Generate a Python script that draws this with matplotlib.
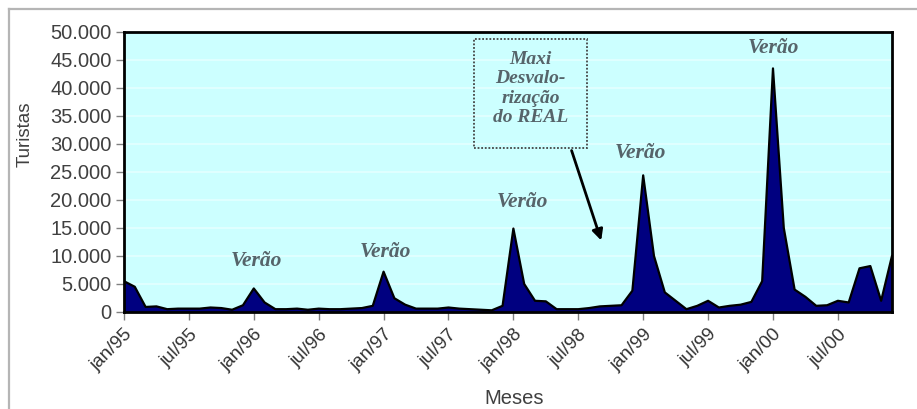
import matplotlib
matplotlib.use("Agg")
import matplotlib.pyplot as plt
from matplotlib.patches import Rectangle
from matplotlib.lines import Line2D

# Turistas por mês, jan/95 a dez/00
turistas = [
    5500, 4500, 900, 1000, 500, 600, 600, 600, 800, 700, 400, 1200,
    4200, 1700, 500, 500, 600, 400, 600, 500, 500, 600, 700, 1100,
    7200, 2450, 1300, 600, 600, 600, 800, 600, 500, 400, 300, 1100,
    14900, 5000, 2000, 1900, 500, 500, 500, 700, 1000, 1100, 1200, 3800,
    24400, 10000, 3500, 2000, 500, 1100, 2000, 800, 1100, 1300, 1800, 5500,
    43500, 15000, 4000, 2700, 1100, 1200, 2000, 1700, 7800, 8200, 2000, 10000,
]
rotulos_meses = ["jan/95", "jul/95", "jan/96", "jul/96", "jan/97", "jul/97",
                 "jan/98", "jul/98", "jan/99", "jul/99", "jan/00", "jul/00"]
valores_y = [0, 5000, 10000, 15000, 20000, 25000, 30000, 35000, 40000, 45000, 50000]

# posições (mês, valor) das anotações "Verão"
verao_x = [12.2, 24.2, 36.8, 47.7, 60.0]
verao_y = [9100, 10800, 19700, 28450, 47100]

meses = list(range(len(turistas)))

fig = plt.figure(figsize=(9.17, 4.09), dpi=100)
ax = fig.add_axes([0.1352, 0.2372, 0.8375, 0.6846])

ax.set_facecolor("#ccffff")
for v in valores_y[1:-1]:
    ax.axhline(v, color="#e4ffff", lw=1.2, zorder=0)

ax.fill_between(meses, turistas, 0, facecolor="#000080", edgecolor="none", zorder=2)
ax.plot(meses, turistas, color="black", lw=1.6, zorder=3)

ax.set_xlim(0, len(turistas) - 1)
ax.set_ylim(0, 50000)

ax.set_xticks(meses[::6])
ax.set_xticklabels(rotulos_meses, rotation=45, ha="right", rotation_mode="anchor",
                   fontsize=13.5, family="Liberation Sans", color="#333333")
ax.set_yticks(valores_y)
ax.set_yticklabels([f"{v:,.0f}".replace(",", ".") for v in valores_y],
                   fontsize=14.5, family="Liberation Sans", color="#404040")
ax.tick_params(axis="both", direction="out", length=6, color="#808080", width=1)
ax.tick_params(axis="x", pad=4)
ax.tick_params(axis="y", pad=3)

for s in ax.spines.values():
    s.set_linewidth(2)
    s.set_color("black")
    s.set_zorder(5)

fig.text(0.5605, 0.025, "Meses", ha="center", va="center", fontsize=14.5,
         family="Liberation Sans", color="#404040")
fig.text(0.027, 0.672, "Turistas", ha="center", va="center", rotation=90,
         fontsize=13.5, family="Liberation Sans", color="#404040")

# anotações
fonte_serif = dict(family="Liberation Serif", style="italic", weight="bold", color="#56646a")
for x, y in zip(verao_x, verao_y):
    ax.text(x, y, "Verão", ha="center", va="center", fontsize=15.5, zorder=6, **fonte_serif)

ax.add_patch(Rectangle((32.4, 29300), 10.4, 19450, fill=False, edgecolor="#444444",
                       lw=1.3, linestyle=(0, (1, 1)), zorder=6))
ax.text(37.6, 39900, "Maxi\nDesvalo-\nrização\ndo REAL", ha="center", va="center",
        fontsize=14, linespacing=1.2, zorder=6, **fonte_serif)
ax.annotate("", xy=(44.2, 12300), xytext=(41.3, 29300),
            arrowprops=dict(arrowstyle="-|>", lw=2, color="black", mutation_scale=16),
            zorder=6)

# moldura externa
ytop = 1 - 9.3 / 409
xleft = 9.3 / 917
fig.add_artist(Line2D([xleft, 1], [ytop, ytop], color="#b5b5b5", lw=1.6))
fig.add_artist(Line2D([xleft, xleft], [0, ytop], color="#b5b5b5", lw=1.6))

fig.savefig("out.png", dpi=100)
